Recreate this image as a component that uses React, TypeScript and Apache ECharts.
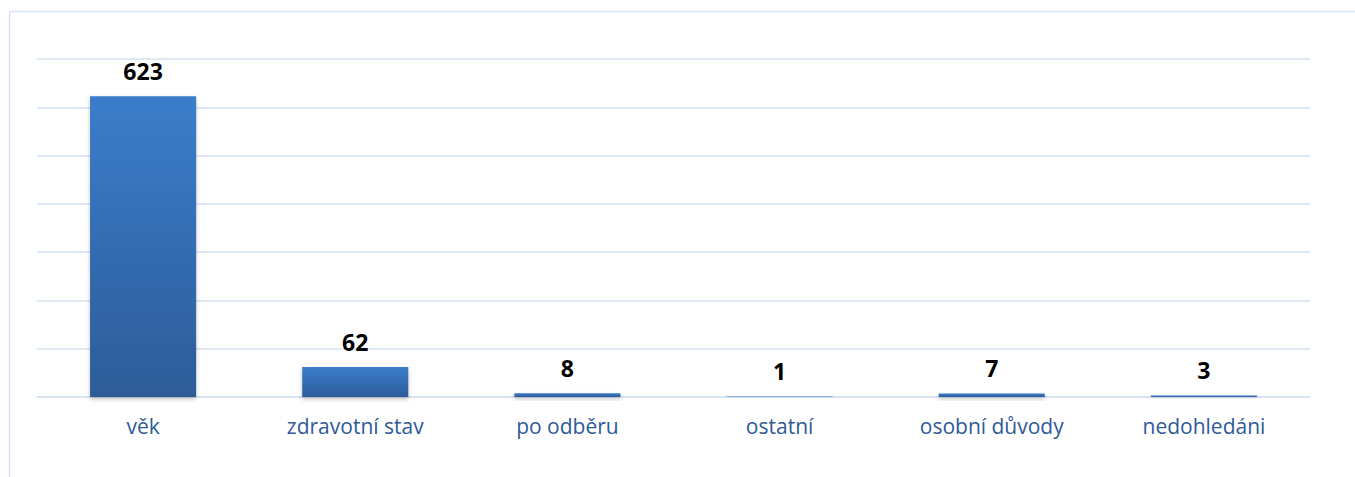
import React, { useEffect, useRef } from "react";
import * as echarts from "echarts";

const categories = ["věk", "zdravotní stav", "po odběru", "ostatní", "osobní důvody", "nedohledáni"];
const values = [623, 62, 8, 1, 7, 3];

export default function App() {
  const ref = useRef<HTMLDivElement>(null);
  useEffect(() => {
    const chart = echarts.init(ref.current!, null, { renderer: "svg" });
    chart.setOption({
      animation: false,
      backgroundColor: "#fff",
      graphic: [
        { type: "line", shape: { x1: 9.5, y1: 11.5, x2: 1355, y2: 11.5 }, style: { stroke: "#D5E1F2", lineWidth: 1.5 } },
        { type: "line", shape: { x1: 9.5, y1: 11.5, x2: 9.5, y2: 477 }, style: { stroke: "#D5E1F2", lineWidth: 1.5 } },
      ],
      grid: { left: 37, right: 45, top: 59, bottom: 80 },
      xAxis: {
        type: "category",
        data: categories,
        axisTick: { show: false },
        axisLine: { lineStyle: { color: "#D5E1F2", width: 1.5 } },
        axisLabel: { color: "#2F5A97", fontSize: 21, fontFamily: "Open Sans", margin: 18 },
      },
      yAxis: {
        type: "value",
        min: 0,
        max: 700,
        interval: 100,
        axisLabel: { show: false },
        axisLine: { show: false },
        axisTick: { show: false },
        splitLine: { lineStyle: { color: "#D5E1F2", width: 1.5 } },
      },
      series: [
        {
          type: "bar",
          data: values,
          barWidth: "50%",
          itemStyle: {
            color: new echarts.graphic.LinearGradient(0, 0, 0, 1, [
              { offset: 0, color: "#3B7DCB" },
              { offset: 1, color: "#2D5C99" },
            ]),
            shadowColor: "rgba(0,0,0,0.25)",
            shadowBlur: 4,
            shadowOffsetY: 2,
          },
          label: {
            show: true,
            position: "top",
            distance: 14,
            color: "#000",
            fontWeight: "bold",
            fontSize: 23,
            fontFamily: "Open Sans",
          },
        },
      ],
    });
    return () => chart.dispose();
  }, []);
  return <div ref={ref} style={{ position: "fixed", left: 0, top: 0, width: 1355, height: 477 }} />;
}
